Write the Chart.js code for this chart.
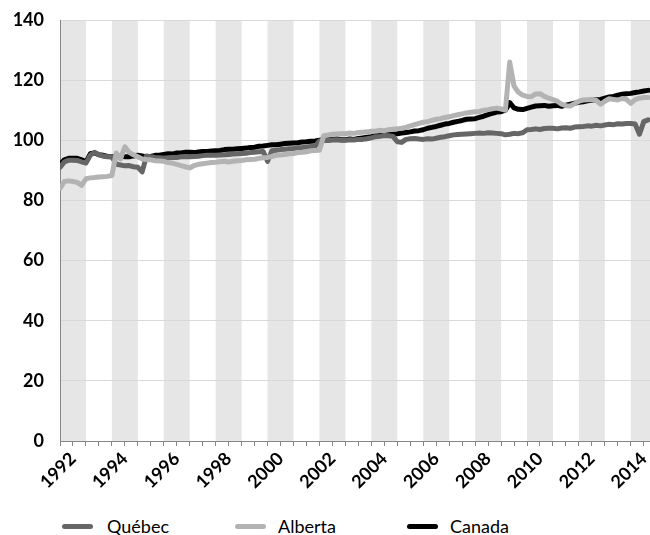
<!DOCTYPE html>
<html>
<head>
<meta charset="utf-8">
<script src="https://cdn.jsdelivr.net/npm/chart.js@4"></script>
<style>
body { margin: 0; background: #fff; }
#wrap { position: relative; width: 650px; height: 535px; overflow: hidden; font-family: Lato, sans-serif; }
#myChart { display: block; }
.key { position: absolute; top: 524px; width: 31px; height: 5px; border-radius: 2.5px; }
.lab { position: absolute; top: 515px; font-size: 18px; line-height: 22px; color: #000; }
</style>
</head>
<body>
<div id="wrap">
<canvas id="myChart" width="650" height="500"></canvas>
<span class="key" style="left:62px;background:#666666"></span><span class="lab" style="left:107px">Québec</span>
<span class="key" style="left:235px;background:#b3b3b3"></span><span class="lab" style="left:278px">Alberta</span>
<span class="key" style="left:407px;background:#000000"></span><span class="lab" style="left:450px">Canada</span>
</div>
<script>
// one value every two months, Jan 1992 -> Sep 2014
const quebec = [
  91, 92.8, 93.4, 93.4, 93.3, 92.8,
  92.4, 95, 96, 95.2, 94.7, 94.5,
  94.5, 92, 91.8, 91.5, 91.6, 91.2,
  91, 89.5, 94.8, 94.5, 94.3, 94.2,
  94, 94.2, 94.3, 94.3, 94.5, 94.6,
  94.5, 94.6, 94.7, 94.9, 95, 95,
  95, 95.1, 95.2, 95.3, 95.4, 95.5,
  95.6, 95.7, 95.9, 96, 96.2, 96.3,
  93, 96.5, 96.7, 96.9, 97, 97.2,
  97.3, 97.5, 97.6, 97.8, 97.9, 98,
  99.8, 100, 99.9, 100.1, 100.2, 100,
  100, 100.2, 100.1, 100.3, 100.3, 100.5,
  100.8, 101.2, 101.3, 101.6, 101.5, 101.3,
  99.5, 99.3, 100.3, 100.5, 100.6, 100.4,
  100.3, 100.5, 100.4, 100.7, 101, 101.2,
  101.5, 101.8, 101.9, 102, 102.1, 102.2,
  102.3, 102.4, 102.3, 102.5, 102.4, 102.3,
  102.2, 101.8, 102, 102.3, 102.2, 102.5,
  103.5, 103.6, 103.8, 103.6, 103.9, 104,
  104, 103.8, 104.1, 104.2, 104, 104.4,
  104.5, 104.6, 104.8, 104.7, 105, 104.8,
  105.1, 105.3, 105.2, 105.5, 105.4, 105.6,
  105.6, 105.4, 102, 106.2, 106.8
];
const alberta = [
  84, 86.3, 86.5, 86.3, 86, 85,
  87.2, 87.5, 87.6, 87.8, 87.9, 88,
  88.3, 95.8, 93.8, 97.8, 96, 95.2,
  94.5, 93.8, 93.6, 93.5, 93.2, 93.1,
  93, 92.6, 92.4, 92, 91.6, 91.2,
  90.8, 91.6, 92, 92.2, 92.4, 92.6,
  92.7, 92.9, 93, 92.8, 93, 93.2,
  93.3, 93.5, 93.6, 93.7, 94, 94.2,
  94.3, 94.6, 95, 95.1, 95.3, 95.5,
  95.6, 95.9, 96, 96.2, 96.5, 96.6,
  96.7, 101.5, 101.8, 102, 102.1, 102.2,
  102.2, 102.4, 102.3, 102.6, 102.7, 102.8,
  103, 103.1, 103.3, 103.2, 103.5, 103.7,
  103.8, 104, 104.3, 104.8, 105.2, 105.6,
  106, 106.2, 106.6, 107, 107.2, 107.6,
  107.8, 108.2, 108.5, 108.8, 109.1, 109.3,
  109.5, 109.6, 110, 110.2, 110.5, 110.7,
  110.4, 110, 126, 118, 116, 115,
  114.6, 114.5, 115.4, 115.5, 114.6, 114,
  113.5, 113, 112, 111.5, 111.4, 112.2,
  113, 113.4, 113.5, 113.6, 113.3, 112,
  113, 113.8, 113.6, 113.4, 113.9, 113.6,
  112.3, 113.5, 114, 114.2, 114.2
];
const canada = [
  92, 93.5, 94, 94, 94, 93.5,
  92.8, 95.5, 95.8, 95.2, 95, 94.6,
  94.5, 94.5, 94.8, 94.5, 94.5, 94.8,
  95, 94.8, 94.5, 94.6, 95, 95,
  95.3, 95.5, 95.4, 95.8, 95.8, 96,
  96, 95.9, 96.1, 96.3, 96.3, 96.4,
  96.5, 96.6, 96.9, 97, 97, 97.2,
  97.3, 97.4, 97.6, 97.7, 98, 98.1,
  98.3, 98.5, 98.5, 98.7, 98.9, 99,
  99.1, 99.2, 99.4, 99.5, 99.7, 99.8,
  100, 100.2, 100.1, 100.3, 100.4, 100.2,
  100.2, 100.4, 100.3, 100.6, 100.8, 101,
  101.2, 101.5, 101.6, 101.8, 102, 102.1,
  102.2, 102.4, 102.6, 102.8, 103.1, 103.2,
  103.5, 104, 104.3, 104.6, 105, 105.4,
  105.6, 106, 106.3, 106.6, 107, 107.1,
  107.2, 107.6, 108, 108.5, 109, 109.4,
  109.5, 110, 112.5, 110.8, 110.3, 110.2,
  110.6, 111, 111.4, 111.5, 111.6, 111.3,
  111.5, 111.6, 111.3, 111.7, 112, 112.3,
  112.6, 112.8, 113.1, 113.4, 113.5, 113.6,
  114, 114.4, 114.6, 115, 115.3, 115.5,
  115.6, 115.9, 116.1, 116.4, 116.6
];
const yearLabels = ['1992','1994','1996','1998','2000','2002','2004','2006','2008','2010','2012','2014'];
const startYear = 1992;
const periods = quebec.map((v, k) => startYear + k / 6);

const FONT = 'Lato, sans-serif';

function pts(arr) {
  return arr.map((v, k) => ({ x: periods[k], y: v }));
}

// grey band behind every even year
const bands = {
  id: 'bands',
  beforeDraw(chart) {
    const { ctx, chartArea: a, scales: { x } } = chart;
    ctx.save();
    ctx.fillStyle = '#e6e6e6';
    yearLabels.forEach(l => {
      const y = Number(l);
      const x0 = Math.max(x.getPixelForValue(y), a.left);
      const x1 = Math.min(x.getPixelForValue(y + 1), a.right);
      if (x1 > x0) ctx.fillRect(x0, a.top, x1 - x0, a.bottom - a.top);
    });
    ctx.restore();
  }
};

const line = (label, data, color, order) => ({
  label: label,
  data: pts(data),
  borderColor: color,
  backgroundColor: color,
  borderWidth: 5,
  pointRadius: 0,
  tension: 0,
  borderJoinStyle: 'round',
  borderCapStyle: 'round',
  order: order
});

const ctx = document.getElementById('myChart').getContext('2d');
let myChart = new Chart(ctx, {
  type: 'line',
  data: {
    datasets: [
      line('Québec', quebec, '#666666', 1),
      line('Alberta', alberta, '#b3b3b3', 0),
      line('Canada', canada, '#000000', 2)
    ]
  },
  options: {
    responsive: false,
    animation: false,
    devicePixelRatio: 1,
    layout: { padding: { top: 20, right: 0, left: 0, bottom: 0 } },
    plugins: { legend: { display: false }, tooltip: { enabled: false } },
    scales: {
      x: {
        type: 'linear',
        min: 1992,
        max: 2014.74,
        afterBuildTicks: s => {
          s.ticks = [];
          for (let v = 1992; v <= 2014.5; v += 0.5) s.ticks.push({ value: v });
        },
        afterFit: s => { s.height = 59; s.paddingLeft = 0; s.paddingRight = 0; },
        grid: { drawOnChartArea: false, drawTicks: true, tickLength: 5, tickColor: '#868686' },
        border: { color: '#868686', width: 1 },
        ticks: {
          autoSkip: false,
          minRotation: 45,
          maxRotation: 45,
          padding: 2,
          color: '#000',
          font: { family: FONT, size: 18, weight: 'bold' },
          callback: v => {
            const y = String(v - 0.5);
            return yearLabels.includes(y) ? y : '';
          }
        }
      },
      y: {
        min: 0,
        max: 140,
        afterFit: s => { s.width = 60; s.paddingTop = 0; s.paddingBottom = 0; },
        grid: { color: '#d9d9d9', drawTicks: false },
        border: { color: '#868686', width: 1 },
        ticks: {
          stepSize: 20,
          padding: 16,
          color: '#000',
          font: { family: FONT, size: 18, weight: 'bold' }
        }
      }
    }
  },
  plugins: [bands]
});
</script>
</body>
</html>
